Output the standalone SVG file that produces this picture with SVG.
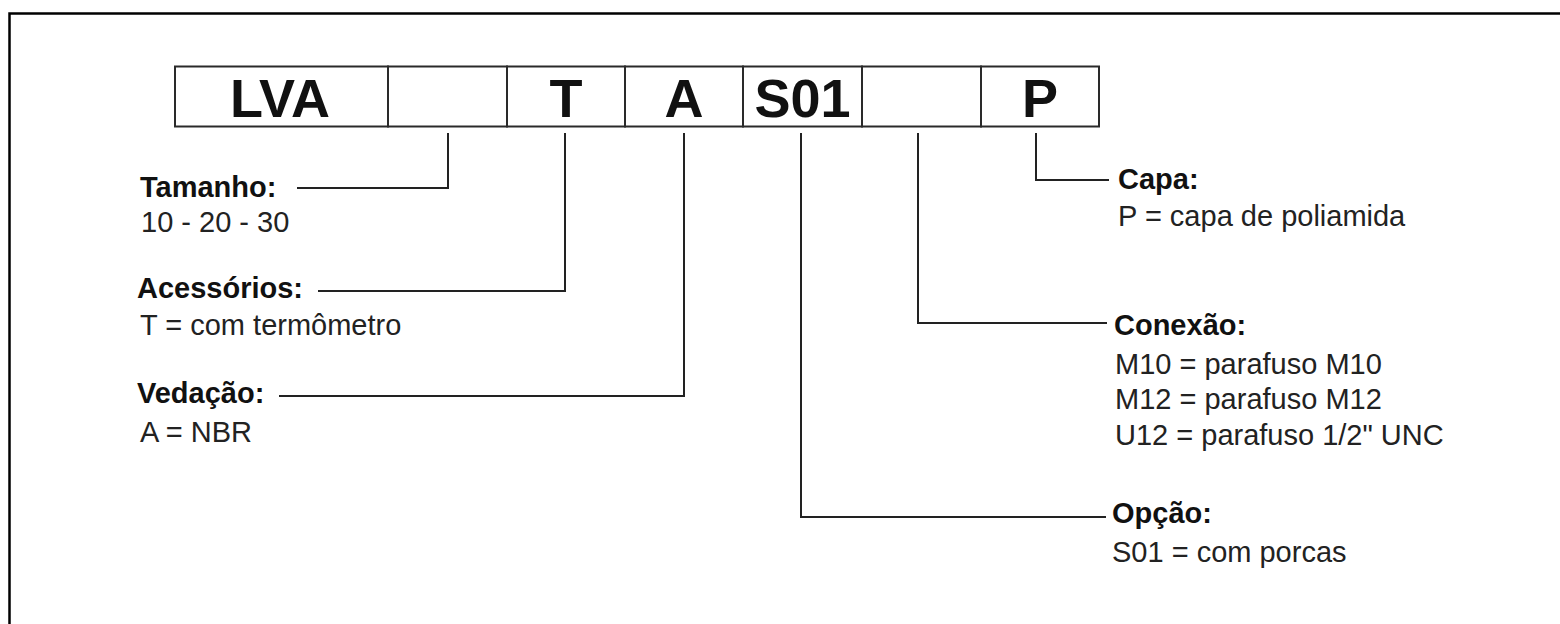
<svg xmlns="http://www.w3.org/2000/svg" width="1560" height="624" viewBox="0 0 1560 624">
<style>
.cell{fill:#fff;stroke:#2a2a2a;stroke-width:2}
.code{font-family:"Liberation Sans",Arial,sans-serif;font-weight:bold;font-size:54px;fill:#111;text-anchor:middle}
.lbl{font-family:"Liberation Sans",Arial,sans-serif;font-weight:bold;fill:#111}
.val{font-family:"Liberation Sans",Arial,sans-serif;fill:#222}
.L{font-size:29px}
.R{font-size:29px}
.con{fill:none;stroke:#222;stroke-width:2}
</style>
<rect x="0" y="0" width="1560" height="624" fill="#fff"/>
<path d="M9.5 640 V13.5 H1570" fill="none" stroke="#000" stroke-width="2.5"/>
<g id="code">
<g id="c-lva"><rect class="cell" x="175" y="66.5" width="213" height="60"/><text class="code" x="280" y="117">LVA</text></g>
<g id="c-size"><rect class="cell" x="388" y="66.5" width="119" height="60"/></g>
<g id="c-t"><rect class="cell" x="507" y="66.5" width="118" height="60"/><text class="code" x="566" y="117">T</text></g>
<g id="c-a"><rect class="cell" x="625" y="66.5" width="118" height="60"/><text class="code" x="684" y="117">A</text></g>
<g id="c-s01"><rect class="cell" x="743" y="66.5" width="119" height="60"/><text class="code" x="802.5" y="117">S01</text></g>
<g id="c-con"><rect class="cell" x="862" y="66.5" width="119" height="60"/></g>
<g id="c-p"><rect class="cell" x="981" y="66.5" width="118" height="60"/><text class="code" x="1040" y="117">P</text></g>
</g>
<g id="connectors">
<path class="con" d="M448 133 V188 H297"/>
<path class="con" d="M565 133 V291 H318"/>
<path class="con" d="M684 133 V396 H279"/>
<path class="con" d="M801 133 V517 H1106"/>
<path class="con" d="M918 133 V323 H1107"/>
<path class="con" d="M1036 133 V180 H1109"/>
</g>
<g id="n-tamanho"><text class="lbl L" x="140" y="197">Tamanho:</text><text class="val L" x="141" y="232">10 - 20 - 30</text></g>
<g id="n-acessorios"><text class="lbl L" x="137" y="298">Acessórios:</text><text class="val L" x="140" y="335">T = com termômetro</text></g>
<g id="n-vedacao"><text class="lbl L" x="137" y="403">Vedação:</text><text class="val L" x="140" y="442">A = NBR</text></g>
<g id="n-capa"><text class="lbl R" x="1118" y="189">Capa:</text><text class="val R" x="1118" y="226">P = capa de poliamida</text></g>
<g id="n-conexao"><text class="lbl R" x="1114" y="335">Conexão:</text><text class="val R" x="1115" y="374">M10 = parafuso M10</text><text class="val R" x="1115" y="409">M12 = parafuso M12</text><text class="val R" x="1115" y="445">U12 = parafuso 1/2" UNC</text></g>
<g id="n-opcao"><text class="lbl R" x="1112" y="523">Opção:</text><text class="val R" x="1112" y="562">S01 = com porcas</text></g>
</svg>
